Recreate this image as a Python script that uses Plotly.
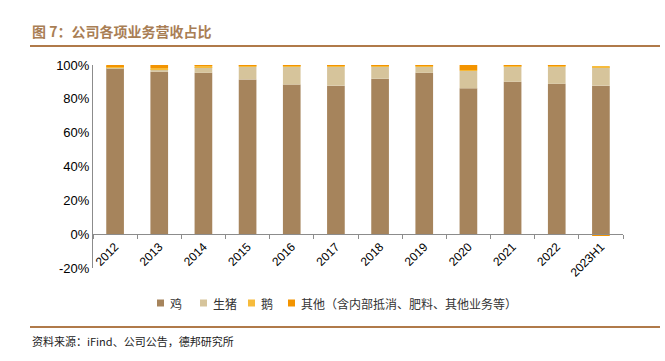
import plotly.graph_objects as go

categories = ["2012", "2013", "2014", "2015", "2016", "2017", "2018", "2019", "2020", "2021", "2022", "2023H1"]
chicken = [98.2, 96.0, 95.4, 91.5, 88.4, 87.8, 91.9, 95.4, 86.2, 90.1, 88.9, 87.8]
pig = [0.3, 1.6, 3.4, 7.7, 10.8, 11.2, 7.3, 3.8, 10.4, 9.3, 10.1, 11.0]
goose = [0.5, 0.6, 1.0, 0.6, 0.6, 0.8, 0.6, 0.6, 0.4, 0.4, 0.8, 0.6]
other = [1.0, 1.8, 0.2, 0.2, 0.2, 0.2, 0.2, 0.2, 3.0, 0.2, 0.2, -0.5]

series_names = ["鸡", "生猪", "鹅", "其他（含内部抵消、肥料、其他业务等）"]
series_values = [chicken, pig, goose, other]
series_colors = ["#A6845C", "#D6C49B", "#F6BB3C", "#F39400"]

cjk = "Noto Sans CJK SC"
latin = "Liberation Sans, Arial"

W, H = 665, 361
L, R, T, B = 93, 42, 65, 93
PW, PH = W - L - R, H - T - B


def px(x):
    return (x - L) / PW


def py(y):
    return (H - B - y) / PH


fig = go.Figure()
for name, vals, color in zip(series_names, series_values, series_colors):
    fig.add_trace(go.Bar(
        x=categories, y=vals, name=name,
        marker=dict(color=color, line=dict(width=0)),
        width=0.4,
    ))

shapes = [
    dict(type="line", xref="paper", yref="paper",
         x0=px(30), x1=px(660), y0=py(46), y1=py(46),
         line=dict(color="#B07A4A", width=2)),
    dict(type="line", xref="paper", yref="paper",
         x0=px(30), x1=px(660), y0=py(327), y1=py(327),
         line=dict(color="#B07A4A", width=2)),
]
annotations = [
    dict(text="<b>图 7：公司各项业务营收占比</b>", xref="paper", yref="paper",
         x=px(30), y=py(31), xanchor="left", yanchor="middle",
         showarrow=False, font=dict(family=cjk, size=14, color="#A97E55")),
    dict(text="资料来源：iFind、公司公告，德邦研究所", xref="paper", yref="paper",
         x=px(30), y=py(341), xanchor="left", yanchor="middle",
         showarrow=False, font=dict(family=cjk, size=11, color="#222222")),
]

# legend (manual)
legend_x = [157, 200, 248, 288]
legend_y = 303
for lx, name, color in zip(legend_x, series_names, series_colors):
    shapes.append(dict(type="rect", xref="paper", yref="paper",
                       x0=px(lx), x1=px(lx + 7), y0=py(legend_y - 3.5), y1=py(legend_y + 3.5),
                       fillcolor=color, line=dict(width=0)))
    annotations.append(dict(text=name, xref="paper", yref="paper",
                            x=px(lx + 11), y=py(legend_y), xanchor="left", yanchor="middle",
                            showarrow=False, font=dict(family=cjk, size=12, color="#333333")))

fig.update_layout(
    width=W, height=H,
    barmode="relative",
    paper_bgcolor="white", plot_bgcolor="white",
    margin=dict(l=L, r=R, t=T, b=B, autoexpand=False),
    showlegend=False,
    xaxis=dict(
        anchor="free", position=1/6, automargin=False,
        showline=True, linecolor="#8c8c8c", linewidth=1,
        ticks="outside", tickson="boundaries", ticklen=4, tickcolor="#8c8c8c",
        tickangle=-45, tickfont=dict(family=latin, size=12, color="#000000"),
        showgrid=False,
    ),
    yaxis=dict(
        range=[-20, 100], tickvals=[-20, 0, 20, 40, 60, 80, 100],
        ticktext=["-20%", "0%", "20%", "40%", "60%", "80%", "100%"],
        automargin=False,
        showline=True, linecolor="#8c8c8c", linewidth=1,
        ticks="", showgrid=False, zeroline=False,
        tickfont=dict(family=latin, size=13, color="#000000"),
    ),
    shapes=shapes,
    annotations=annotations,
)

fig.write_html("out.html", config={"displayModeBar": False},
               post_script="document.body.style.margin='0';document.body.style.overflow='hidden';")
